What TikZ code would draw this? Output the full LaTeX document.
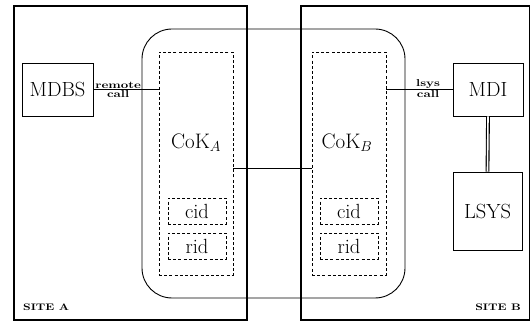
\documentclass[tikz,border=0pt]{standalone}
\usepackage{fontspec}
\usepackage{graphicx}
\begin{document}
\begin{tikzpicture}[x=1pt,y=-1pt,
  sitebox/.style={draw, line width=2.2pt, inner sep=0pt, anchor=north west},
  plainbox/.style={draw, line width=0.9pt, inner sep=0pt, font=\fontsize{20.5}{22}\selectfont},
  dbox/.style={draw, line width=0.9pt, dash pattern=on 3pt off 2.2pt, inner sep=0pt, font=\fontsize{20.5}{22}\selectfont},
  bigtext/.style={inner sep=0pt, font=\fontsize{21}{22}\selectfont},
  small/.style={inner sep=0.6pt},
  conn/.style={line width=0.9pt}]
\useasboundingbox (0,0) rectangle (530,323);
% sites
\node[sitebox, minimum width=233pt, minimum height=314pt] (siteA) at (13,5) {};
\node[sitebox, minimum width=229pt, minimum height=314pt] (siteB) at (300,5) {};
\node[anchor=west, inner sep=0pt] (labA) at (23,307) {\scalebox{1.25}[1]{\bfseries\fontsize{9.5}{9.5}\selectfont SITE A}};
\node[anchor=east, inner sep=0pt] (labB) at (521,307) {\scalebox{1.25}[1]{\bfseries\fontsize{9.5}{9.5}\selectfont SITE B}};
% big rounded CoK enclosure
\node[draw, line width=0.9pt, rounded corners=30pt, minimum width=263pt, minimum height=269pt, inner sep=0pt] (enc) at (273.5,163.5) {};
% CoK A
\node[dbox, minimum width=74pt, minimum height=223pt] (cokA) at (196,163.5) {};
\node[bigtext] (cokAt) at (196,143) {CoK$_{A}$};
\node[dbox, minimum width=58pt, minimum height=26pt] (cidA) at (197,211) {cid};
\node[dbox, minimum width=58pt, minimum height=26pt] (ridA) at (197,246) {rid};
% CoK B
\node[dbox, minimum width=74pt, minimum height=223pt] (cokB) at (349,163.5) {};
\node[bigtext] (cokBt) at (347,143) {CoK$_{B}$};
\node[dbox, minimum width=58pt, minimum height=26pt] (cidB) at (349,211) {cid};
\node[dbox, minimum width=58pt, minimum height=26pt] (ridB) at (349,246) {rid};
% boxes
\node[plainbox, minimum width=71pt, minimum height=53pt] (mdbs) at (57.5,89.5) {MDBS};
\node[plainbox, minimum width=70pt, minimum height=53pt] (mdi) at (488,89.5) {MDI};
\node[plainbox, minimum width=69pt, minimum height=78pt] (lsys) at (487.5,211) {LSYS};
% connectors
\draw[conn] (mdbs.east) -- node[pos=0.38, above, small] {\scalebox{1.3}[1]{\bfseries\fontsize{10}{10}\selectfont remote}}
  node[pos=0.38, below, small] {\scalebox{1.3}[1]{\bfseries\fontsize{10}{10}\selectfont call}} (mdbs.east -| cokA.west);
\draw[conn] (mdi.west -| cokB.east) -- node[pos=0.63, above, small] {\scalebox{1.3}[1]{\bfseries\fontsize{10}{10}\selectfont lsys}}
  node[pos=0.63, below, small] {\scalebox{1.3}[1]{\bfseries\fontsize{10}{10}\selectfont call}} (mdi.west);
\draw[conn] ([yshift=-4.5pt]cokA.east) -- ([yshift=-4.5pt]cokB.west);
\draw[line width=1.1pt, double, double distance=1.6pt] (mdi.south) -- (lsys.north);
\end{tikzpicture}
\end{document}
